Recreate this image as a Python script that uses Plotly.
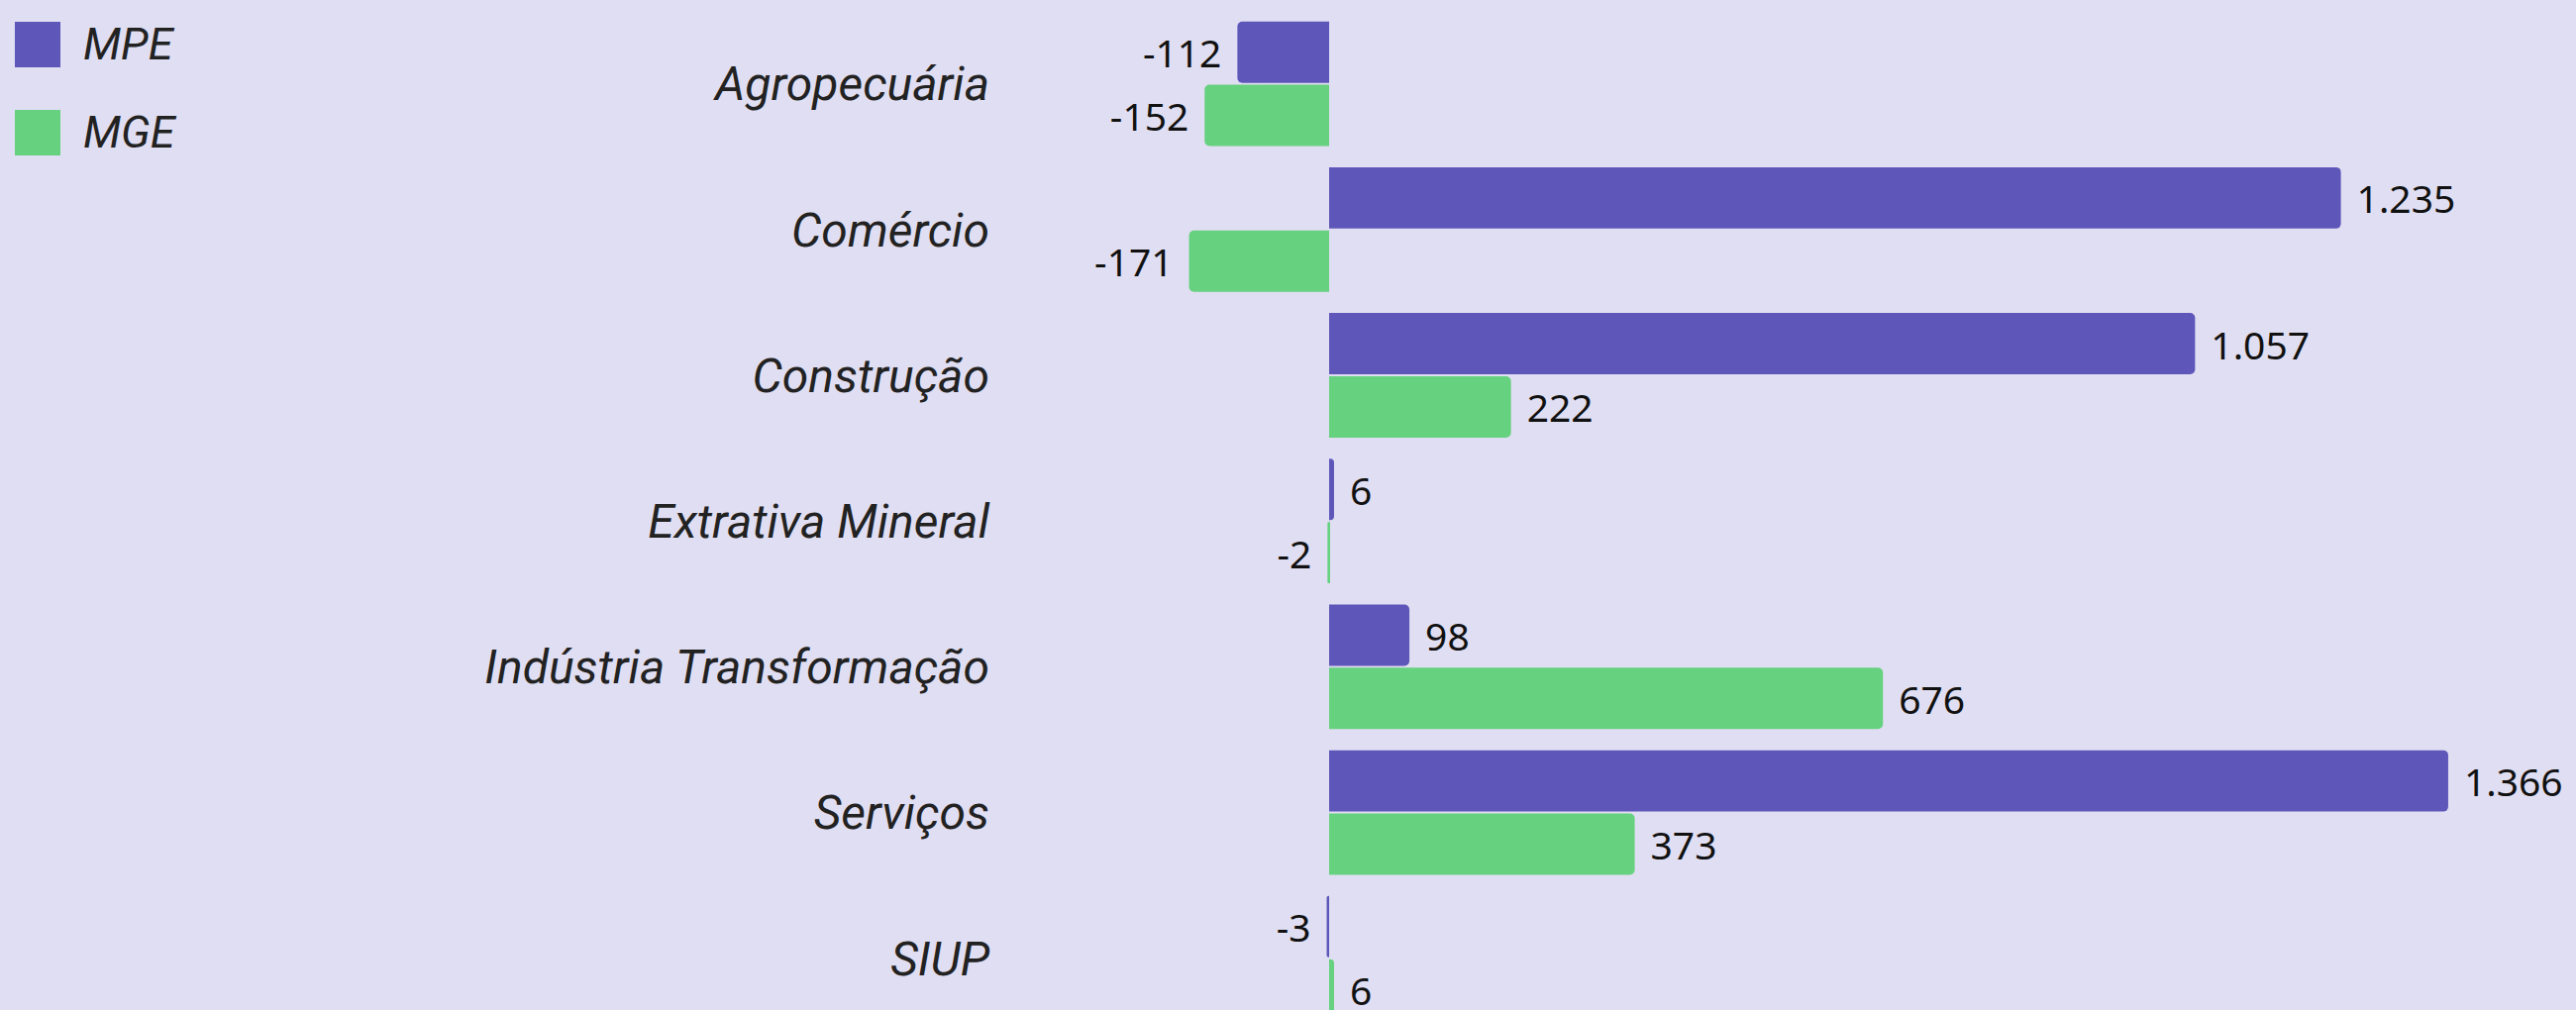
import plotly.graph_objects as go

categories = ["Agropecuária", "Comércio", "Construção", "Extrativa Mineral",
              "Indústria Transformação", "Serviços", "SIUP"]
mpe_values = [-112, 1235, 1057, 6, 98, 1366, -3]
mge_values = [-152, -171, 222, -2, 676, 373, 6]
series_names = ["MPE", "MGE"]

W, H = 2601, 1020
ML, MR, MT, MB = 1010, 0, 0, 0
PW = W - ML - MR
PH = H - MT - MB

BG = "#E0DEF2"
C_MPE = "#5E57B9"
C_MGE = "#66D17F"


def fmt(v):
    s = f"{v:,}".replace(",", ".")
    return ("\u2004" + s) if v >= 0 else (s + "\u2004")


fig = go.Figure()
for name, vals, col in [(series_names[0], mpe_values, C_MPE), (series_names[1], mge_values, C_MGE)]:
    fig.add_trace(go.Bar(
        y=categories, x=vals, orientation="h", name=name,
        marker=dict(color=col, line=dict(width=0), cornerradius=5),
        text=[fmt(v) for v in vals], textposition="outside",
        textfont=dict(family="Noto Sans", size=39, color="#111111"),
        cliponaxis=False, showlegend=False, hoverinfo="skip",
    ))

fig.update_layout(
    width=W, height=H,
    margin=dict(l=ML, r=MR, t=MT, b=MB, pad=0),
    paper_bgcolor=BG, plot_bgcolor=BG,
    barmode="group", bargap=0.132, bargroupgap=0.03,
    xaxis=dict(range=[-401.4, 1522], visible=False, showgrid=False, zeroline=False),
    yaxis=dict(range=[6.355, -0.575], showgrid=False, zeroline=False, showline=False,
               ticks="", ticklabelstandoff=10,
               tickfont=dict(family="Roboto", size=48, color="#222222", style="italic")),
)


def px(x):
    return (x - ML) / PW


def py(y):
    return 1 - (y - MT) / PH

legend_rows = [(series_names[0], C_MPE, 22, 68), (series_names[1], C_MGE, 111, 157)]
for name, col, y0, y1 in legend_rows:
    fig.add_shape(type="rect", xref="paper", yref="paper",
                  x0=px(15), x1=px(61), y0=py(y1), y1=py(y0),
                  fillcolor=col, line=dict(width=0), layer="above")
    fig.add_annotation(xref="paper", yref="paper", x=px(82), y=py((y0 + y1) / 2),
                       text=name, showarrow=False, xanchor="left", yanchor="middle",
                       font=dict(family="Roboto", size=45, color="#222222", style="italic"))

fig.write_html("out.html", config={"displayModeBar": False},
               post_script="document.body.style.margin='0';document.body.style.overflow='hidden';")
